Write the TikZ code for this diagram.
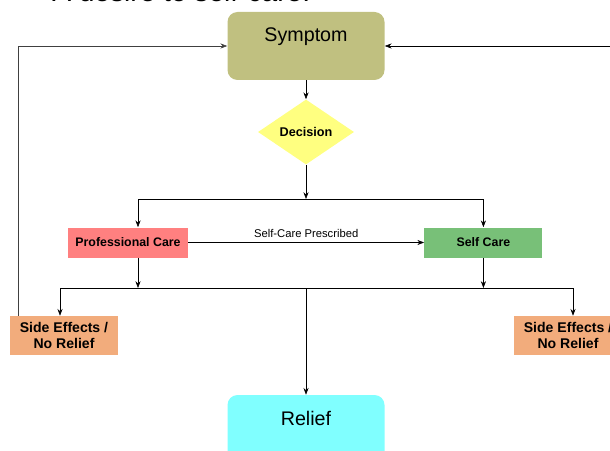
\documentclass[tikz,border=0pt]{standalone}
\usepackage{fontspec}
\setmainfont{Liberation Sans}
\usepackage{tikz}
\usetikzlibrary{
    positioning,
    arrows.meta,
    shapes.geometric
}
\definecolor{symptomcol}{RGB}{192,192,128}
\definecolor{decisioncol}{RGB}{255,255,128}
\definecolor{profcol}{RGB}{255,128,128}
\definecolor{selfcol}{RGB}{120,192,120}
\definecolor{sidecol}{RGB}{242,172,124}
\definecolor{reliefcol}{RGB}{128,255,255}
\tikzset{
    >=Stealth,
    roundbox/.style={
        rectangle,
        rounded corners=0.25cm,
        minimum width=3.925cm,
        inner xsep=0pt,
        inner ysep=0.3cm,
        text height=0.45cm,
        text depth=0.65cm,
        font=\fontsize{14}{16}\selectfont
    },
    decisionbox/.style={
        diamond,
        fill=decisioncol,
        aspect=1.48,
        inner sep=0pt,
        minimum width=2.4cm,
        minimum height=1.625cm,
        font=\fontsize{9}{11}\selectfont\bfseries
    },
    carebox/.style={
        rectangle,
        minimum height=0.75cm,
        inner sep=0pt,
        font=\fontsize{8.8}{10}\selectfont\bfseries
    },
    sidebox/.style={
        rectangle,
        fill=sidecol,
        align=center,
        minimum width=2.7cm,
        minimum height=0.975cm,
        inner sep=0pt,
        font=\fontsize{10}{11.5}\selectfont\bfseries
    }
}

\begin{document}
\begin{tikzpicture}[
    auto,
    >=Stealth
]
    \useasboundingbox (0,0) rectangle (15.25,11.25);

    % Titel (oben abgeschnitten)
    \node[anchor=base west, font=\fontsize{20}{24}\selectfont, inner sep=0pt]
        (title) at (1.3,11.2) {A desire to self-care:};

    % Knoten
    \node[roundbox, fill=symptomcol] (symptom) at (7.65,10.1)   {Symptom};
    \node[decisionbox]               (decision) at (7.65,7.95)  {Decision};

    \node[carebox, fill=profcol, minimum width=3cm]    (profcare) at (3.2,5.1875)   {Professional Care};
    \node[carebox, fill=selfcol, minimum width=2.95cm] (selfcare) at (12.085,5.1875) {Self Care};

    \node[sidebox] (sideL) at (1.6,2.8625)  {Side Effects /\\No Relief};
    \node[sidebox] (sideR) at (14.2,2.8625) {Side Effects /\\No Relief};

    \node[roundbox, fill=reliefcol] (relief) at (7.65,0.525) {Relief};

    % Verzweigungen
    \coordinate (split) at (7.65,6.275);
    \coordinate (merge) at (7.65,4.05);

    % Verbindungen
    \draw[->] (symptom) -- (decision);
    \draw[->] (decision) -- (split);
    \draw[->] (split) -| ([xshift=0.25cm]profcare.north);
    \draw[->] (split) -| (selfcare.north);

    \draw[->] (profcare) --
        node[above, font=\fontsize{8}{10}\selectfont] {Self-Care Prescribed} (selfcare);

    \draw[->] ([xshift=0.25cm]profcare.south) -- ([xshift=0.25cm]profcare.south |- merge);
    \draw[->] (selfcare.south) -- (selfcare.south |- merge);

    \draw[->] (merge) -| ([xshift=-0.1cm]sideL.north);
    \draw[->] (merge) -| ([xshift=0.125cm]sideR.north);
    \draw[->] (merge) -- (relief);

    % Rueckfuehrung
    \draw[->, black!75] ([xshift=0.225cm]sideL.north west) |- (symptom.west);
    \draw[->] ([xshift=-0.225cm]sideR.north east) |- (symptom.east);

\end{tikzpicture}
\end{document}
